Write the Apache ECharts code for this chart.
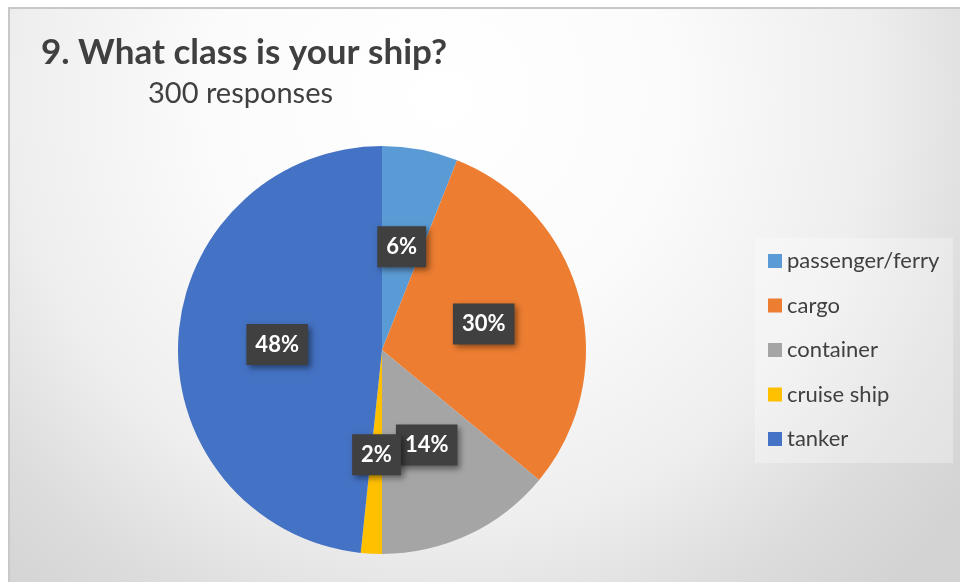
<!DOCTYPE html>
<html>
<head>
<meta charset="utf-8">
<script src="https://cdn.jsdelivr.net/npm/echarts@6/dist/echarts.min.js"></script>
<style>
html,body{margin:0;padding:0;background:#fff;}
#chart{width:960px;height:582px;}
</style>
</head>
<body>
<div id="chart"></div>
<script>
const titleText = '9. What class is your ship?';
const subtitleText = '300 responses';
const categories = ['passenger/ferry', 'cargo', 'container', 'cruise ship', 'tanker'];
const responses = [18, 90, 42, 5, 145];
const colors = ['#5B9BD5', '#ED7D31', '#A5A5A5', '#FFC000', '#4472C4'];

const FONT = 'Lato, "Open Sans", sans-serif';
const chart = echarts.init(document.getElementById('chart'));
const option = {
  animation: false,
  color: colors,
  title: [
    { text: titleText, left: 36, top: 30,
      textStyle: { fontFamily: FONT, fontSize: 35, fontWeight: 'bold', color: '#404040' } },
    { text: subtitleText, left: 143, top: 74,
      textStyle: { fontFamily: FONT, fontSize: 29, fontWeight: 'normal', color: '#404040' } }
  ],
  graphic: [
    { type: 'rect', z: -10, silent: true,
      shape: { x: 9, y: 8, width: 960, height: 600 },
      style: {
        fill: { type: 'radial', x: 0.45, y: 0.15, r: 1.1,
          colorStops: [
            { offset: 0, color: '#ffffff' },
            { offset: 0.35, color: '#fbfbfb' },
            { offset: 0.65, color: '#eeeeee' },
            { offset: 0.85, color: '#dcdcdc' },
            { offset: 1, color: '#d3d3d3' }
          ] },
        stroke: '#c8c8c8', lineWidth: 2
      } },
    { type: 'rect', z: -5, silent: true,
      shape: { x: 755, y: 238, width: 198, height: 225 },
      style: { fill: 'rgba(255,255,255,0.3)' } }
  ],
  legend: {
    orient: 'vertical',
    left: 763, top: 244,
    itemWidth: 14, itemHeight: 14,
    itemGap: 20.5,
    icon: 'rect',
    data: categories,
    textStyle: { fontFamily: FONT, fontSize: 22, color: '#404040', lineHeight: 24 }
  },
  series: [{
    type: 'pie',
    center: [382, 350],
    radius: 204,
    startAngle: 90,
    clockwise: true,
    avoidLabelOverlap: false,
    minShowLabelAngle: 0,
    labelLayout: { hideOverlap: false },
    data: categories.map((c, i) => ({ name: c, value: responses[i] })),
    itemStyle: { borderWidth: 0 },
    label: {
      show: true,
      position: 'inside',
      formatter: p => Math.round(p.percent) + '%',
      fontFamily: FONT,
      fontSize: 22,
      fontWeight: 'bold',
      color: '#ffffff',
      backgroundColor: '#404040',
      padding: [9, 9, 9, 9],
      lineHeight: 23,
      shadowColor: 'rgba(0,0,0,0.45)',
      shadowBlur: 6,
      shadowOffsetX: 3,
      shadowOffsetY: 3,
      textShadowColor: 'transparent'
    },
    labelLine: { show: false },
    emphasis: { disabled: true }
  }]
};
chart.setOption(option);
</script>
</body>
</html>
